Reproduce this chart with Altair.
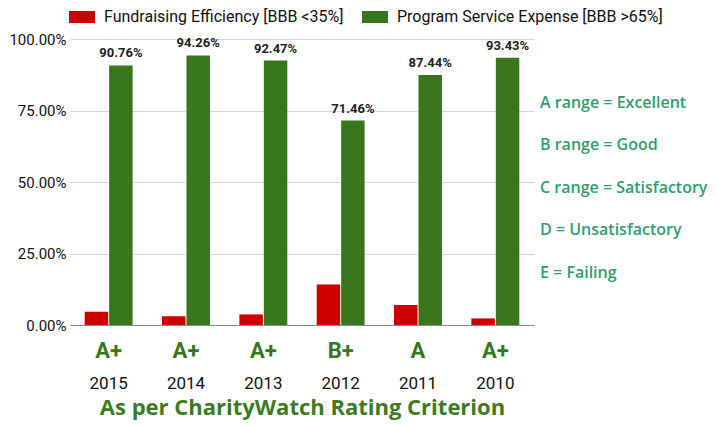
import altair as alt
import pandas as pd

years = ["2015", "2014", "2013", "2012", "2011", "2010"]
grades = ["A+", "A+", "A+", "B+", "A", "A+"]
fundraising = [0.0465, 0.031, 0.037, 0.142, 0.070, 0.023]
program = [0.9076, 0.9426, 0.9247, 0.7146, 0.8744, 0.9343]
series = ["Fundraising Efficiency [BBB <35%]", "Program Service Expense [BBB >65%]"]
colors = ["#cc0000", "#38761d"]
notes = ["A range = Excellent", "B range = Good", "C range = Satisfactory",
         "D = Unsatisfactory", "E = Failing"]

rows = []
for y, g, f, p in zip(years, grades, fundraising, program):
    rows.append({"year": y, "grade": g, "series": series[0], "value": f})
    rows.append({"year": y, "grade": g, "series": series[1], "value": p})
df = pd.DataFrame(rows)
notes_df = pd.DataFrame({"note": notes, "idx": list(range(len(notes)))})

W, H = 464, 286

x_enc = alt.X(
    "year:N", sort=years,
    scale=alt.Scale(paddingInner=0.38, paddingOuter=0.19),
    axis=alt.Axis(
        title="As per CharityWatch Rating Criterion",
        titleFont="Open Sans", titleFontWeight="bold", titleFontSize=22,
        titleColor="#3b7b22", titleY=89, titleBaseline="alphabetic",
        labelAngle=0, labelFont="Roboto", labelFontSize=17, labelColor="#111111",
        labelPadding=58, labelBaseline="middle", ticks=False, tickSize=0,
        domain=True, domainColor="#8a8a8a", domainWidth=1.2, grid=False,
    ),
)
xoff = alt.XOffset("series:N", scale=alt.Scale(domain=series, paddingInner=0.04))
y_axis = alt.Axis(
    title=None, values=[0, 0.25, 0.5, 0.75, 1], format=".2%",
    labelFont="Roboto", labelFontSize=15, labelColor="#111111", labelPadding=4,
    ticks=False, domain=False, gridColor="#d6d6d6", gridWidth=1.2,
)
y_scale = alt.Scale(domain=[0, 1], nice=False)

bars = alt.Chart(df).mark_bar().encode(
    x=x_enc,
    xOffset=xoff,
    y=alt.Y("value:Q", scale=y_scale, axis=y_axis),
    color=alt.Color(
        "series:N",
        scale=alt.Scale(domain=series, range=colors),
        legend=alt.Legend(
            title=None, orient="none", direction="horizontal", legendX=-1, legendY=-35,
            symbolType="M-1,-0.46H1V0.46H-1Z", symbolSize=676, symbolStrokeWidth=0,
            symbolOpacity=1, labelFont="Roboto", labelFontSize=16, labelColor="#111111",
            labelOffset=9, columnPadding=18, padding=0, labelLimit=400,
        ),
    ),
)

labels = alt.Chart(df).transform_filter(
    alt.datum.series == series[1]
).mark_text(
    baseline="bottom", dy=-5, font="Roboto", fontSize=13, fontWeight="bold", color="#222222"
).encode(
    x=x_enc,
    xOffset=xoff,
    y=alt.Y("value:Q", scale=y_scale, axis=y_axis),
    text=alt.Text("value:Q", format=".2%"),
)

grade_text = alt.Chart(df).transform_filter(
    alt.datum.series == series[1]
).mark_text(
    baseline="middle", font="Roboto", fontSize=22, fontWeight="bold", color="#38761d"
).encode(
    x=x_enc,
    y=alt.value(H + 26),
    text="grade:N",
)

note_text = alt.Chart(notes_df).mark_text(
    align="left", baseline="middle", font="Open Sans", fontSize=16, fontWeight=600,
    color="#2f9e6e",
).encode(
    x=alt.value(W + 6),
    y=alt.Y("idx:Q", scale=alt.Scale(domain=[0, 4], range=[63.7, 233.7]), axis=None),
    text="note:N",
)

main = alt.layer(bars, labels, grade_text)

chart = alt.layer(main, note_text).resolve_scale(
    y="independent"
).properties(
    width=W, height=H,
    autosize=alt.AutoSizeParams(type="none"),
    padding={"left": 62, "top": 31, "right": 175, "bottom": 95},
).configure(font="Roboto").configure_view(strokeWidth=0, stroke="transparent")

chart.save("out.html", embed_options={"renderer": "svg", "actions": False})
